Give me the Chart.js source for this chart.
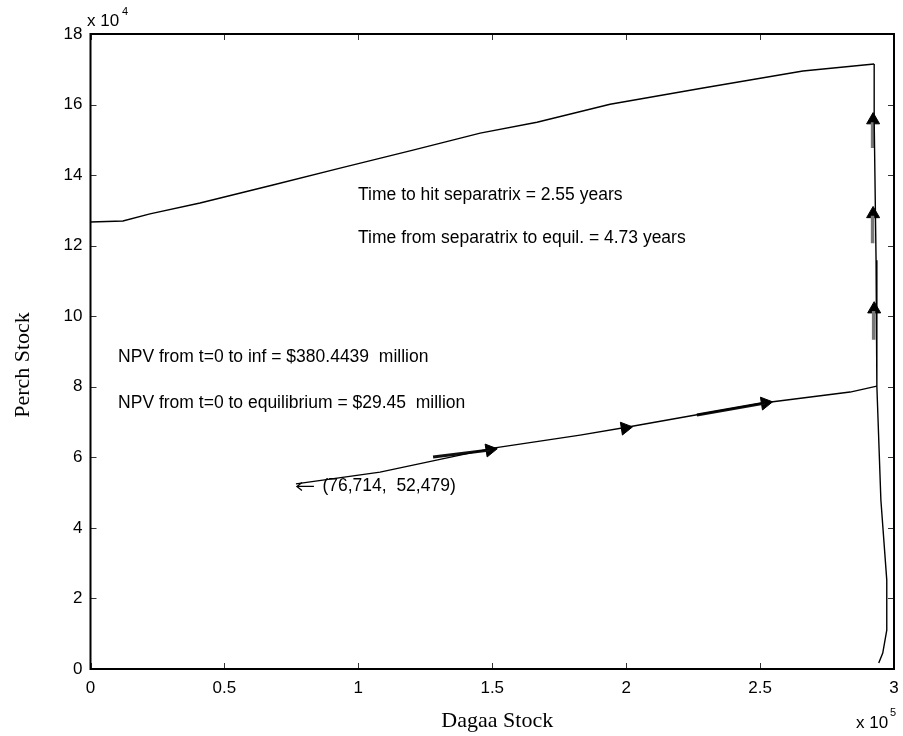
<!DOCTYPE html>
<html>
<head>
<meta charset="utf-8">
<script src="https://cdn.jsdelivr.net/npm/chart.js@4.4.1/dist/chart.umd.min.js"></script>
<style>
  html, body { margin: 0; padding: 0; background: #fff; }
  #wrap { width: 903px; height: 736px; }
</style>
</head>
<body>
<div id="wrap"><canvas id="phaseCanvas" width="903" height="736"></canvas></div>
<script>
// valores en unidades del eje (x 10^5 dagaa, x 10^4 perca)
const dagaaUpper = [0, 0.121, 0.222, 0.409, 0.681, 0.932, 1.204, 1.455, 1.667, 1.94, 2.287, 2.66, 2.926];
const perchUpper = [12.67, 12.7, 12.9, 13.21, 13.72, 14.2, 14.71, 15.19, 15.5, 16.01, 16.47, 16.95, 17.15];

const dagaaSep = [2.926, 2.926, 2.933, 2.936, 2.936, 2.951, 2.973, 2.973, 2.958, 2.943];
const perchSep = [17.15, 15.56, 11.59, 8.96, 8.02, 4.79, 2.52, 1.1, 0.45, 0.17];

const dagaaLower = [0.767, 1.081, 1.503, 1.828, 2.007, 2.511, 2.836, 2.936];
const perchLower = [5.248, 5.58, 6.26, 6.63, 6.86, 7.54, 7.85, 8.02];

// puntas de flecha
const arrowX = [1.491, 1.996, 2.519, 2.922, 2.922, 2.926];
const arrowY = [6.21, 6.83, 7.54, 15.56, 12.9, 10.2];
const arrowRot = [81, 81, 81, 0, 0, 0];

// colas de las flechas
const shaftLowX = [1.279, 1.491, null, 2.264, 2.519];
const shaftLowY = [6.01, 6.21, null, 7.2, 7.54];
const shaftUpX = [2.92, 2.92, null, 2.92, 2.92, null, 2.924, 2.924];
const shaftUpY = [15.5, 14.77, null, 12.85, 12.07, null, 10.15, 9.33];

const xTicks = ["0", "0.5", "1", "1.5", "2", "2.5", "3"];
const yTicks = ["0", "2", "4", "6", "8", "10", "12", "14", "16", "18"];

// notas: [texto, x, y] en unidades de datos
const notes = [
  ["Time to hit separatrix = 2.55 years", 0.999, 13.43],
  ["Time from separatrix to equil. = 4.73 years", 0.999, 12.22],
  ["NPV from t=0 to inf = $380.4439  million", 0.103, 8.84],
  ["NPV from t=0 to equilibrium = $29.45  million", 0.103, 7.54],
  ["(76,714,  52,479)", 0.866, 5.19],
];

const sans = "'Liberation Sans', Arial, Helvetica, sans-serif";
const serif = "'Liberation Serif', 'Times New Roman', serif";

function pts(xs, ys) {
  return xs.map((x, i) => (x === null ? { x: NaN, y: NaN } : { x: x, y: ys[i] }));
}

const decorPlugin = {
  id: "decor",
  afterDraw(chart) {
    const c = chart.ctx;
    const a = chart.chartArea;
    const xs = chart.scales.x;
    const ys = chart.scales.y;
    c.save();
    // ticks hacia adentro
    c.strokeStyle = "#333";
    c.lineWidth = 1;
    const tl = 6;
    xs.ticks.forEach((t) => {
      const px = Math.round(xs.getPixelForValue(t.value)) + 0.5;
      c.beginPath();
      c.moveTo(px, a.bottom); c.lineTo(px, a.bottom - tl);
      c.moveTo(px, a.top); c.lineTo(px, a.top + tl);
      c.stroke();
    });
    ys.ticks.forEach((t) => {
      const py = Math.round(ys.getPixelForValue(t.value)) + 0.5;
      c.beginPath();
      c.moveTo(a.left, py); c.lineTo(a.left + tl, py);
      c.moveTo(a.right, py); c.lineTo(a.right - tl, py);
      c.stroke();
    });
    // marco
    c.strokeStyle = "#000";
    c.lineWidth = 2;
    c.strokeRect(a.left, a.top, a.right - a.left, a.bottom - a.top);

    // notas
    c.fillStyle = "#000";
    c.font = "17.5px " + sans;
    c.textBaseline = "middle";
    c.textAlign = "left";
    notes.forEach((n) => {
      c.fillText(n[0], xs.getPixelForValue(n[1]), ys.getPixelForValue(n[2]));
    });
    // flecha "<-" del punto inicial
    const ax = xs.getPixelForValue(0.767) + 1;
    const ay = ys.getPixelForValue(5.19) + 0.5;
    c.strokeStyle = "#000";
    c.lineWidth = 1.3;
    c.beginPath();
    c.moveTo(ax, ay); c.lineTo(ax + 17, ay);
    c.moveTo(ax + 5, ay - 4); c.lineTo(ax, ay); c.lineTo(ax + 5, ay + 4);
    c.stroke();

    // multiplicadores
    c.font = "17px " + sans;
    c.fillText("x 10", 87, 21);
    c.fillText("x 10", 856, 723);
    c.font = "11px " + sans;
    c.fillText("4", 122, 12);
    c.fillText("5", 890, 713);

    // titulos de ejes
    c.font = "22px " + serif;
    c.textAlign = "center";
    c.fillText("Dagaa Stock", (a.left + a.right) / 2 + 5, 721);
    c.translate(23, 365);
    c.rotate(-Math.PI / 2);
    c.fillText("Perch Stock", 0, 0);
    c.restore();
  },
};

const ctx = document.getElementById("phaseCanvas").getContext("2d");
const phaseChart = new Chart(ctx, {
  type: "scatter",
  data: {
    datasets: [
      {
        label: "upper",
        data: pts(dagaaUpper, perchUpper),
        showLine: true,
        borderColor: "#000",
        borderWidth: 1.4,
        pointRadius: 0,
      },
      {
        label: "separatrix",
        data: pts(dagaaSep, perchSep),
        showLine: true,
        borderColor: "#000",
        borderWidth: 1.4,
        pointRadius: 0,
      },
      {
        label: "lower",
        data: pts(dagaaLower, perchLower),
        showLine: true,
        borderColor: "#000",
        borderWidth: 1.4,
        pointRadius: 0,
      },
      {
        label: "shaftLow",
        data: pts(shaftLowX, shaftLowY),
        showLine: true,
        spanGaps: false,
        borderColor: "#111",
        borderWidth: 3,
        pointRadius: 0,
      },
      {
        label: "shaftUp",
        data: pts(shaftUpX, shaftUpY),
        showLine: true,
        spanGaps: false,
        borderColor: "#777",
        borderWidth: 3.5,
        pointRadius: 0,
      },
      {
        label: "arrows",
        data: pts(arrowX, arrowY),
        showLine: false,
        pointStyle: "triangle",
        rotation: arrowRot,
        pointRadius: 7.5,
        backgroundColor: "#000",
        borderColor: "#000",
        borderWidth: 1,
      },
    ],
  },
  options: {
    responsive: false,
    animation: false,
    layout: { padding: { left: 0, right: 9, top: 34, bottom: 0 } },
    plugins: {
      legend: { display: false },
      tooltip: { enabled: false },
    },
    scales: {
      x: {
        type: "linear",
        min: 0,
        max: 3,
        grid: { display: false, drawTicks: false },
        border: { display: false },
        afterFit: (s) => { s.height = 67; s.paddingLeft = 0; s.paddingRight = 0; },
        afterBuildTicks: (s) => { s.ticks = xTicks.map((t) => ({ value: parseFloat(t) })); },
        ticks: {
          padding: 9,
          color: "#000",
          maxRotation: 0,
          font: { family: sans, size: 17 },
          callback: (v, i) => xTicks[i],
        },
      },
      y: {
        type: "linear",
        min: 0,
        max: 18,
        grid: { display: false, drawTicks: false },
        border: { display: false },
        afterFit: (s) => { s.width = 90.5; s.paddingTop = 0; s.paddingBottom = 0; },
        afterBuildTicks: (s) => { s.ticks = yTicks.map((t) => ({ value: parseFloat(t) })); },
        ticks: {
          padding: 8,
          color: "#000",
          font: { family: sans, size: 17 },
          callback: (v, i) => yTicks[i],
        },
      },
    },
  },
  plugins: [decorPlugin],
});
</script>
</body>
</html>
